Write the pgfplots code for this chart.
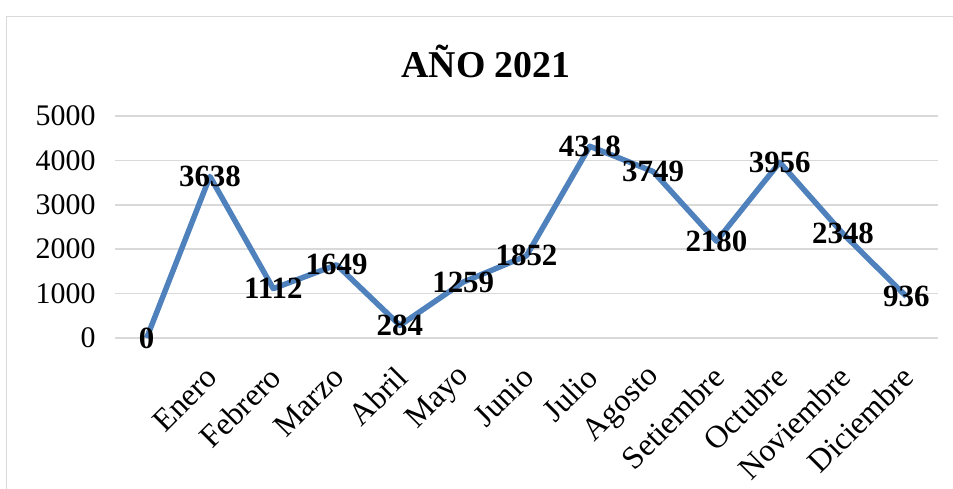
\documentclass[border=0pt]{standalone}
\usepackage{fontspec}
\setmainfont{Liberation Serif}
\usepackage{pgfplots}
\pgfplotsset{compat=1.18}
\definecolor{lineblue}{RGB}{79,129,189}
\definecolor{gridgray}{RGB}{217,217,217}
\begin{document}
\begin{tikzpicture}[x=1bp,y=1bp]
\useasboundingbox (0,0) rectangle (953,-489);
\draw[gridgray, line width=1.5bp] (6.5,-500) -- (6.5,-16.5) -- (960,-16.5);
\node[font=\fontsize{38}{44}\selectfont\bfseries] at (486,-61) {AÑO 2021};
\begin{axis}[
  at={(115bp,-338bp)}, anchor=south west,
  scale only axis, width=823bp, height=222bp,
  xmin=-0.5, xmax=12.5, ymin=0, ymax=5000,
  clip=false,
  /pgf/number format/assume math mode=true,
  /pgf/number format/1000 sep={},
  scaled y ticks=false,
  xtick={1,...,12},
  xticklabels={Enero,Febrero,Marzo,Abril,Mayo,Junio,Julio,Agosto,Setiembre,Octubre,Noviembre,Diciembre},
  ytick={0,1000,2000,3000,4000,5000},
  ymajorgrids,
  major grid style={gridgray, line width=1.5bp},
  axis line style={draw=none},
  major tick length=0pt,
  yticklabel style={font=\fontsize{30}{36}\selectfont, anchor=east, xshift=-16bp},
  xticklabel style={font=\fontsize{32}{38}\selectfont, xshift=2bp, yshift=-34bp, rotate=45, anchor=east, inner sep=0pt},
]
\addplot[lineblue, line width=5.5bp, line join=round, no markers,
  nodes near coords, point meta=explicit symbolic,
  every node near coord/.append style={font=\fontsize{31}{36}\selectfont\bfseries, anchor=center, text=black, inner sep=0pt}]
  coordinates {
  (0,0) [0]
  (1,3638) [3638]
  (2,1112) [1112]
  (3,1649) [1649]
  (4,284) [284]
  (5,1259) [1259]
  (6,1852) [1852]
  (7,4318) [4318]
  (8,3749) [3749]
  (9,2180) [2180]
  (10,3956) [3956]
  (11,2348) [2348]
  (12,936) [936]
  };
\end{axis}
\end{tikzpicture}
\end{document}
